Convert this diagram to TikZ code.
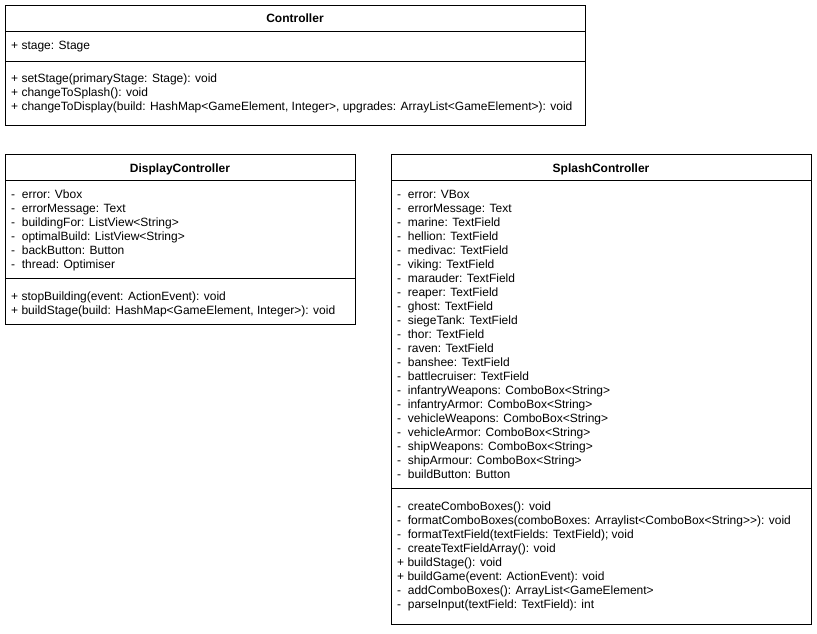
\documentclass[tikz,border=0pt]{standalone}
\usepackage{fontspec}
\setmainfont{Liberation Sans}
\begin{document}
\begin{tikzpicture}[x=1pt,y=-1pt,
  box/.style={draw, line width=1pt, inner sep=0pt, anchor=north west},
  txt/.style={anchor=base west, inner sep=0pt, font=\fontsize{12}{14}\selectfont},
  ttl/.style={anchor=base, inner sep=0pt, font=\fontsize{12}{14}\selectfont\bfseries},
  sep/.style={line width=1pt}]
\useasboundingbox (0,0) rectangle (817,633);
% Controller
\node[box, minimum width=580pt, minimum height=120pt] (ctrl) at (5,5) {};
\node[ttl] (ctrl-t) at (295,22) {Controller};
\draw[sep] (ctrl.west |- 0,31) -- (ctrl.east |- 0,31);
\draw[sep] (ctrl.west |- 0,61) -- (ctrl.east |- 0,61);
\node[txt] (ctrl-a1) at (11,49) {+ stage: Stage};
\foreach \t [count=\i] in {
  {+ setStage(primaryStage: Stage): void},
  {+ changeToSplash(): void},
  {+ changeToDisplay(build: HashMap<GameElement, Integer>, upgrades: ArrayList<GameElement>): void}}
  \node[txt] (ctrl-m\i) at (11,{82+14*(\i-1)}) {\t};
% DisplayController
\node[box, minimum width=350pt, minimum height=170pt] (disp) at (5,154) {};
\node[ttl] (disp-t) at (180,172) {DisplayController};
\draw[sep] (disp.west |- 0,180) -- (disp.east |- 0,180);
\draw[sep] (disp.west |- 0,278) -- (disp.east |- 0,278);
\foreach \t [count=\i] in {
  {-~ error: Vbox},
  {-~ errorMessage: Text},
  {-~ buildingFor: ListView<String>},
  {-~ optimalBuild: ListView<String>},
  {-~ backButton: Button},
  {-~ thread: Optimiser}}
  \node[txt] (disp-a\i) at (11,{198+14*(\i-1)}) {\t};
\foreach \t [count=\i] in {
  {+ stopBuilding(event: ActionEvent): void},
  {+ buildStage(build: HashMap<GameElement, Integer>): void}}
  \node[txt] (disp-m\i) at (11,{300+14*(\i-1)}) {\t};
% SplashController
\node[box, minimum width=420pt, minimum height=470pt] (spl) at (391,154) {};
\node[ttl] (spl-t) at (601,172) {SplashController};
\draw[sep] (spl.west |- 0,180) -- (spl.east |- 0,180);
\draw[sep] (spl.west |- 0,488) -- (spl.east |- 0,488);
\foreach \t [count=\i] in {
  {-~ error: VBox},
  {-~ errorMessage: Text},
  {-~ marine: TextField},
  {-~ hellion: TextField},
  {-~ medivac: TextField},
  {-~ viking: TextField},
  {-~ marauder: TextField},
  {-~ reaper: TextField},
  {-~ ghost: TextField},
  {-~ siegeTank: TextField},
  {-~ thor: TextField},
  {-~ raven: TextField},
  {-~ banshee: TextField},
  {-~ battlecruiser: TextField},
  {-~ infantryWeapons: ComboBox<String>},
  {-~ infantryArmor: ComboBox<String>},
  {-~ vehicleWeapons: ComboBox<String>},
  {-~ vehicleArmor: ComboBox<String>},
  {-~ shipWeapons: ComboBox<String>},
  {-~ shipArmour: ComboBox<String>},
  {-~ buildButton: Button}}
  \node[txt] (spl-a\i) at (397,{198+14*(\i-1)}) {\t};
\foreach \t [count=\i] in {
  {-~ createComboBoxes(): void},
  {-~ formatComboBoxes(comboBoxes: Arraylist<ComboBox<String>{}>): void},
  {-~ formatTextField(textFields: TextField); void},
  {-~ createTextFieldArray(): void},
  {+ buildStage(): void},
  {+ buildGame(event: ActionEvent): void},
  {-~ addComboBoxes(): ArrayList<GameElement>},
  {-~ parseInput(textField: TextField): int}}
  \node[txt] (spl-m\i) at (397,{510+14*(\i-1)}) {\t};
\end{tikzpicture}
\end{document}
